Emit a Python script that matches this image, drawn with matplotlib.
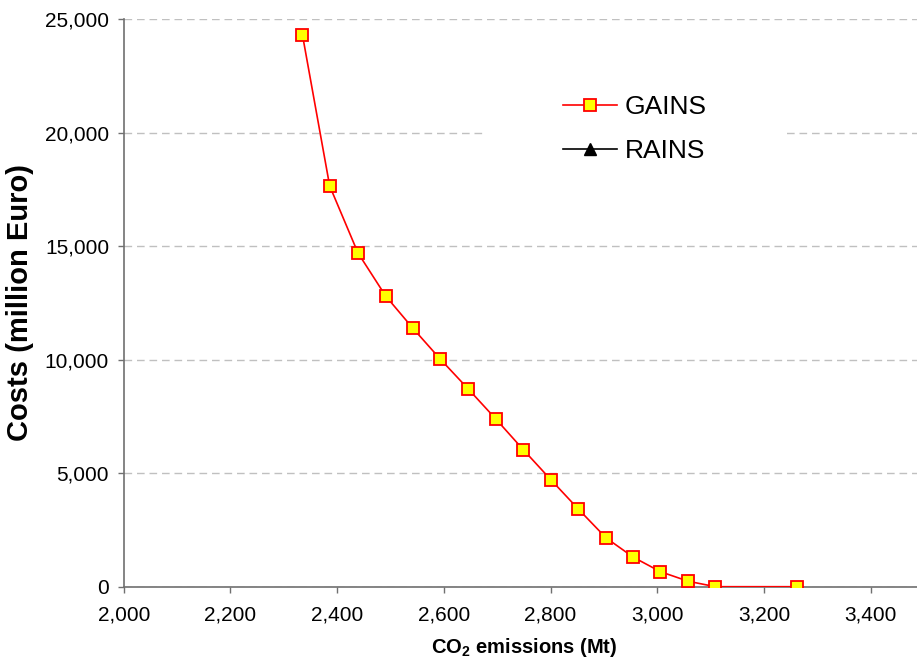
import matplotlib.pyplot as plt
from matplotlib.patches import Rectangle
from matplotlib.ticker import FuncFormatter

plt.rcParams['font.family'] = ['Liberation Sans', 'DejaVu Sans']
plt.rcParams['mathtext.fontset'] = 'custom'
plt.rcParams['mathtext.rm'] = 'Liberation Sans:bold'
plt.rcParams['mathtext.bf'] = 'Liberation Sans:bold'

# CO2 emissions (Mt) vs costs (million Euro)
gains_emissions = [2335, 2386, 2439, 2491, 2542, 2593, 2646, 2698, 2749, 2801,
                   2852, 2904, 2955, 3006, 3058, 3109, 3261]
gains_costs = [24300, 17650, 14700, 12800, 11380, 10030, 8700, 7370, 6030, 4700,
               3420, 2150, 1300, 660, 240, 0, 0]
rains_emissions = []
rains_costs = []

x_ticks = [2000, 2200, 2400, 2600, 2800, 3000, 3200, 3400]
y_ticks = [0, 5000, 10000, 15000, 20000, 25000]

fig = plt.figure(figsize=(9.17, 6.61), dpi=100)
ax = fig.add_axes([0.1349, 0.1124, 0.8728, 0.8589])

ax.set_axisbelow(True)
ax.yaxis.grid(True, color='#c0c0c0', linestyle=(0, (5.5, 3.5)), linewidth=1)

# white box behind the legend hides the grid line there
fig.patches.append(Rectangle((485 / 917, (661 - 175) / 661), (783 - 485) / 917, 85 / 661,
                             transform=fig.transFigure, facecolor='white',
                             edgecolor='none', zorder=1))

ax.plot(gains_emissions, gains_costs, color='red', linewidth=1.2, marker='s',
        markersize=8, markerfacecolor='yellow', markeredgecolor='red',
        markeredgewidth=1.3, label='GAINS', zorder=3)
ax.plot(rains_emissions, rains_costs, color='black', linewidth=1.2, marker='^',
        markersize=9, markerfacecolor='black', markeredgecolor='black', label='RAINS')

ax.set_xlim(2000, 3500)
ax.set_ylim(0, 25000)
ax.set_xticks(x_ticks)
ax.set_yticks(y_ticks)
fmt = FuncFormatter(lambda v, p: f'{int(v):,}')
ax.xaxis.set_major_formatter(fmt)
ax.yaxis.set_major_formatter(fmt)

for side in ['top', 'right']:
    ax.spines[side].set_visible(False)
for side in ['left', 'bottom']:
    ax.spines[side].set_color('#707070')
    ax.spines[side].set_linewidth(1.2)
ax.tick_params(axis='both', direction='out', length=4.5, width=1, color='#707070',
               labelsize=15, labelcolor='black')
ax.tick_params(axis='y', pad=6)
ax.tick_params(axis='x', pad=9)

ax.set_xlabel(r'CO$_{2}$ emissions (Mt)', fontsize=14.5, fontweight='bold', labelpad=8)
ax.set_ylabel('Costs (million Euro)', fontsize=21, fontweight='bold', labelpad=8)

leg = fig.legend(loc='upper left', bbox_to_anchor=(563 / 917, (661 - 95) / 661),
                 frameon=False, fontsize=19, handlelength=2.05, handletextpad=0.3,
                 labelspacing=0.75, borderpad=0, borderaxespad=0)
leg.set_zorder(5)

fig.savefig('out.png', dpi=100)
